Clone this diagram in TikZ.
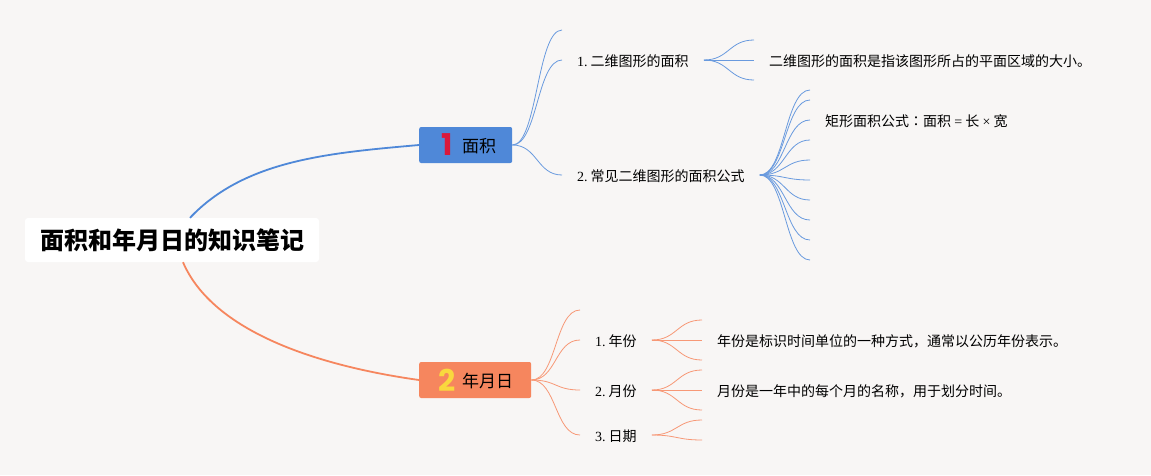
\documentclass[tikz,border=0pt]{standalone}
\usepackage{fontspec}
\setmainfont{Noto Sans CJK SC}
\newfontfamily\lat{Liberation Serif}
\newfontfamily\tcfont{Noto Sans CJK TC}
\newfontfamily\iconfont{Poppins}
\definecolor{bgc}{HTML}{F8F6F5}
\definecolor{bluec}{HTML}{4F88D8}
\definecolor{orangec}{HTML}{F6865E}
\definecolor{redc}{HTML}{D9183B}
\definecolor{yellowc}{HTML}{F9D83E}
\tikzset{
  rootbox/.style={fill=white,rounded corners=3pt,minimum width=294pt,minimum height=44pt,inner sep=0pt,font=\fontsize{24}{28}\selectfont\bfseries},
  branchbox/.style={rounded corners=2pt,minimum height=36pt,inner ysep=0pt,anchor=west,font=\fontsize{17}{20}\selectfont,text height=15pt,text depth=1pt},
  icontext/.style={font=\fontsize{30}{32}\iconfont\bfseries,inner sep=0pt},
  leaflabel/.style={anchor=west,inner xsep=15pt,inner ysep=0pt,font=\fontsize{14}{17}\selectfont,text height=13pt,text depth=1pt},
  mainblue/.style={draw=bluec,line width=1.8pt},
  mainorange/.style={draw=orangec,line width=1.8pt},
  bluefan/.style={draw=bluec!85!white,line width=0.8pt},
  orangefan/.style={draw=orangec!85!white,line width=0.8pt},
}
\newcommand{\fanline}[4]{\draw[#1] (#2) .. controls +(#4pt,0pt) and +(-#4pt,0pt) .. (#3);}
\newcommand{\num}[1]{{\lat #1.}\hspace{3pt}}
\begin{document}
\begin{tikzpicture}[x=1pt,y=-1pt]
\fill[bgc] (0,0) rectangle (1151,475);
\useasboundingbox (0,0) rectangle (1151,475);
% nodes
\node[rootbox] (root) at (172,240) {面积和年月日的知识笔记};
\node[branchbox,fill=bluec,inner xsep=0pt,text width=93pt] (b1) at (419,145) {\hspace*{43pt}面积};
\node[branchbox,fill=orangec,inner xsep=0pt,text width=112pt] (b2) at (419,380) {\hspace*{43pt}年月日};
\node[icontext,text=redc] (i1) at (447,145) {1};
\node[icontext,text=yellowc] (i2) at (447,380) {2};
% branch 1
\coordinate (a0) at (562,30);
\node[leaflabel] (a1) at (562,60) {\num{1}二维图形的面积};
\node[leaflabel] (a2) at (562,175) {\num{2}常见二维图形的面积公式};
\coordinate (a1x) at (754,40);
\node[leaflabel] (a1t) at (754,60) {二维图形的面积是指该图形所占的平面区域的大小。};
\coordinate (a1y) at (754,80);
\coordinate (p0) at (810,90);
\coordinate (p1) at (810,100);
\node[leaflabel] (p2) at (810,120) {矩形面积公式{\tcfont ：}面积 {\lat =} 长 {\lat ×} 宽};
\coordinate (p3) at (810,140);
\coordinate (p4) at (810,160);
\coordinate (p5) at (810,180);
\coordinate (p6) at (810,200);
\coordinate (p7) at (810,220);
\coordinate (p8) at (810,240);
\coordinate (p9) at (810,260);
% branch 2
\coordinate (c0) at (580,310);
\node[leaflabel] (c1) at (580,340) {\num{1}年份};
\node[leaflabel] (c2) at (580,390) {\num{2}月份};
\node[leaflabel] (c3) at (580,435) {\num{3}日期};
\coordinate (d1) at (702,320);
\node[leaflabel] (d2) at (702,340) {年份是标识时间单位的一种方式，通常以公历年份表示。};
\coordinate (d3) at (702,360);
\coordinate (e1) at (702,370);
\node[leaflabel] (e2) at (702,390) {月份是一年中的每个月的名称，用于划分时间。};
\coordinate (e3) at (702,410);
\coordinate (f1) at (702,420);
\coordinate (f2) at (702,440);
% main connectors
\draw[mainblue] ([xshift=18pt]root.north) .. controls +(55,-58) and +(-90,8) .. (b1.west);
\draw[mainorange] ([xshift=11pt]root.south) .. controls +(30,70) and +(-100,-14) .. (b2.west);
% fans
\foreach \t in {a0,a1.west,a2.west} {\fanline{bluefan}{b1.east}{\t}{25}}
\foreach \t in {a1x,a1t.west,a1y} {\fanline{bluefan}{a1.east}{\t}{25}}
\foreach \t in {p0,p1,p2.west,p3,p4,p5,p6,p7,p8,p9} {\fanline{bluefan}{a2.east}{\t}{25}}
\foreach \t in {c0,c1.west,c2.west,c3.west} {\fanline{orangefan}{b2.east}{\t}{25}}
\foreach \t in {d1,d2.west,d3} {\fanline{orangefan}{c1.east}{\t}{25}}
\foreach \t in {e1,e2.west,e3} {\fanline{orangefan}{c2.east}{\t}{25}}
\foreach \t in {f1,f2} {\fanline{orangefan}{c3.east}{\t}{25}}
\end{tikzpicture}
\end{document}
